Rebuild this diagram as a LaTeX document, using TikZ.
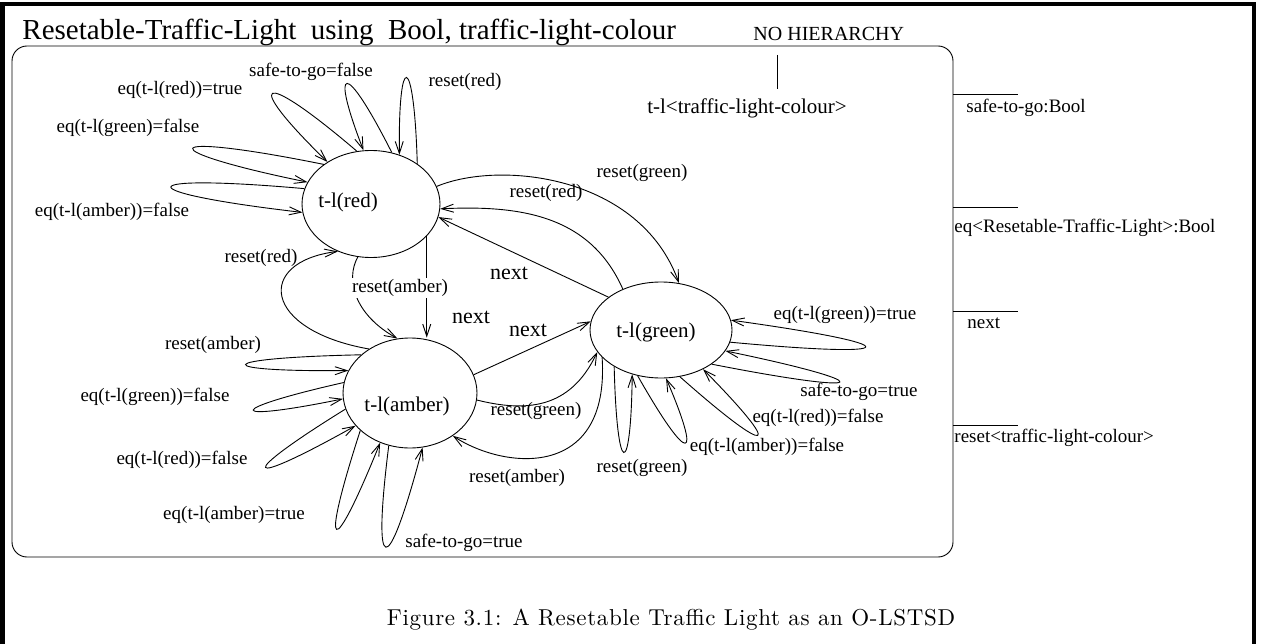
\documentclass[tikz,border=0pt]{standalone}
\usepackage{fontspec}
\setmainfont{Liberation Serif}
\newfontfamily\capfont[LetterSpace=3]{lmroman10-regular.otf}
\usetikzlibrary{shapes.geometric,arrows.meta}

\tikzset{
	state/.style={draw, ellipse, inner sep=0pt},
	statetxt/.style={font=\fontsize{21}{23}\selectfont, inner sep=0pt},
	lbl/.style={font=\fontsize{19}{21}\selectfont, inner sep=0pt},
	nextlbl/.style={font=\fontsize{22}{24}\selectfont, inner sep=0pt},
}

\begin{document}
\begin{tikzpicture}[x=1pt, y=-1pt, line width=0.9pt, >={Straight Barb[length=12pt,width=8pt]}]
	\useasboundingbox (0,0) rectangle (1265,644);
	% frame and header
	\draw[line width=4.5pt] (2.5,644) -- (2.5,4) -- (1254,4) -- (1254,644);
	\node[anchor=base west, inner sep=0pt, font=\fontsize{29}{31}\selectfont] (title) at (22,40) {Resetable-Traffic-Light\ \ using\ \ Bool, traffic-light-colour};
	\node[anchor=base west, inner sep=0pt, font=\fontsize{20}{22}\selectfont] (nohier) at (753,41) {NO HIERARCHY};
	\draw[rounded corners=15pt] (12,46) rectangle (953,557);
	\node[lbl, font=\fontsize{21}{23}\selectfont] (tlvar) at (747,108) {t-l<traffic-light-colour>};
	\coordinate (hiertop) at (777,55);
	\coordinate (hierbot) at (777,89);
	\draw (hiertop) -- (hierbot);

	% interface
	\draw (953,94) -- (1018,94);
	\node[lbl, anchor=west] (sig1) at (966,108) {safe-to-go:Bool};
	\draw (953,207) -- (1018,207);
	\node[lbl, anchor=west] (sig2) at (954,228) {eq<Resetable-Traffic-Light>:Bool};
	\draw (953,311) -- (1018,311);
	\node[lbl, anchor=west] (sig3) at (967,323) {next};
	\draw (953,425) -- (1018,425);
	\node[lbl, anchor=west] (sig4) at (954,438) {reset<traffic-light-colour>};

	% states
	\node[state, minimum width=138pt, minimum height=107pt] (red) at (371,204) {};
	\node[statetxt] (red-t) at (348,202) {t-l(red)};
	\node[state, minimum width=134pt, minimum height=110pt] (amber) at (410,393) {};
	\node[statetxt] (amber-t) at (407,406) {t-l(amber)};
	\node[state, minimum width=142pt, minimum height=96pt] (green) at (661,330) {};
	\node[statetxt] (green-t) at (656,332) {t-l(green)};

	% red loops
	\draw[->] (red.105) .. controls (256,65) and (243,80) .. (red.136) node[lbl] (r1) at (180,90) {eq(t-l(red))=true};
	\draw[->] (red.140) .. controls (154,130) and (150,150) .. (red.161) node[lbl] (r2) at (128,128) {eq(t-l(green)=false};
	\draw[->] (red.167) .. controls (128,173) and (126,192) .. (red.187) node[lbl] (r3) at (112,212) {eq(t-l(amber))=false};
	\draw[->] (red.68) .. controls (344,58) and (330,64) .. (red.98) node[lbl] (r4) at (311,72) {safe-to-go=false};
	\draw[->] (red.41.5) .. controls (414,50) and (398,51) .. (red.60) node[lbl] (r5) at (465,82) {reset(red)};

	% transitions
	\draw[->] (red.15) .. controls (500,160) and (640,175) .. (green.69) node[lbl] (e6) at (642,173) {reset(green)};
	\draw[->] (green.133) .. controls (590,215) and (520,205) .. (red.-4) node[lbl] (e7) at (546,193) {reset(red)};
	\draw[->] (green.148) -- (red.-11.5) node[nextlbl] (e8) at (509,273) {next};
	\draw[->] (red.-30) -- (red.-30 |- amber.north) node[nextlbl] (e9) at (471,317) {next};
	\draw[->] (red.-104) .. controls (345,280) and (355,315) .. (amber.103) node[lbl, fill=white, inner sep=1pt] (e10) at (400,288) {reset(amber)};
	\draw[->] (amber.133) .. controls (262,330) and (255,262) .. (red.-125) node[lbl] (e11) at (261,258) {reset(red)};
	\draw[->] (green.205) .. controls (610,480) and (505,470) .. (amber.-45.6) node[lbl] (e17) at (517,478) {reset(amber)};
	\draw[->] (amber.-6) .. controls (525,412) and (570,410) .. (green.199) node[lbl] (e18) at (536,411) {reset(green)};
	\draw[->] (amber.16) -- (green.173) node[nextlbl] (e19) at (528,330) {next};

	% amber loops
	\draw[->] (amber.142) .. controls (209,358) and (210,372) .. (amber.160.5) node[lbl] (a1) at (213,345) {reset(amber)};
	\draw[->] (amber.171) .. controls (222,410) and (225,423) .. (amber.185.5) node[lbl] (a2) at (155,397) {eq(t-l(green))=false};
	\draw[->] (amber.194) .. controls (234,478) and (241,490) .. (amber.211) node[lbl] (a3) at (182,460) {eq(t-l(red))=false};
	\draw[->] (amber.217) .. controls (319,558) and (332,562) .. (amber.239) node[lbl] (a4) at (234,515) {eq(t-l(amber)=true};
	\draw[->] (amber.248.5) .. controls (372,579) and (387,582) .. (amber.283.5) node[lbl] (a5) at (464,543) {safe-to-go=true};

	% green loops
	\draw[->] (green.-10) .. controls (910,359) and (911,345) .. (green.8) node[lbl] (g1) at (845,315) {eq(t-l(green))=true};
	\draw[->] (green.-34) .. controls (879,397) and (881,383) .. (green.-18) node[lbl] (g2) at (859,392) {safe-to-go=true};
	\draw[->] (green.292) .. controls (775,461) and (784,451) .. (green.-43) node[lbl] (g3) at (818,418) {eq(t-l(red))=false};
	\draw[->] (green.243) .. controls (690,468) and (702,462) .. (green.276) node[lbl] (g4) at (767,447) {eq(t-l(amber))=false};
	\draw[->] (green.218) .. controls (617,480) and (631,479) .. (green.237.5) node[lbl] (g5) at (642,468) {reset(green)};

	\node[anchor=base, inner sep=0pt, font=\capfont\fontsize{23}{25}\selectfont] (caption) at (671,625) {Figure 3.1: A Resetable Traffic Light as an O-LSTSD};
\end{tikzpicture}
\end{document}
